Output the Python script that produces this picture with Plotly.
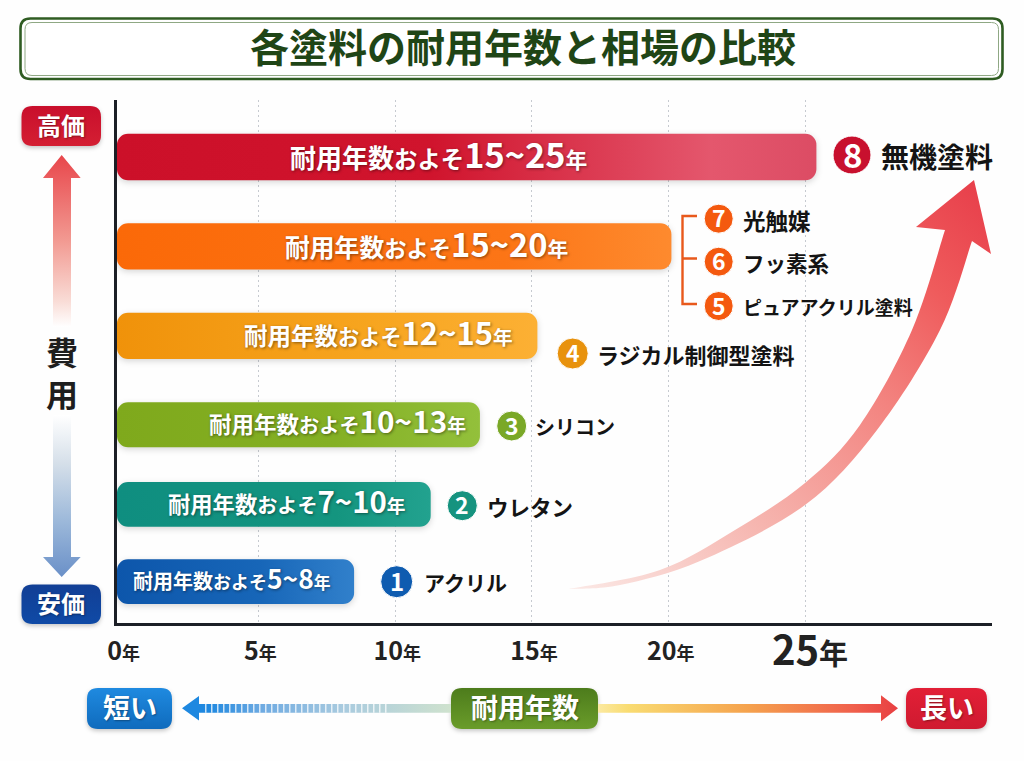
import json
import plotly.graph_objects as go

# rows run bottom to top, like the bars in the picture
low_years = [5, 7, 10, 12, 15, 15]
high_years = [8, 10, 13, 15, 20, 25]
bar_end_years = [8.5, 11.3, 13.1, 15.2, 20.1, 25.4]
cost_level = [0.79, 2.27, 3.79, 5.49, 7.2, 8.91]

paint_numbers = [1, 2, 3, 4, 5, 6, 7, 8]
paint_names = [
    "アクリル", "ウレタン", "シリコン", "ラジカル制御型塗料",
    "ピュアアクリル塗料", "フッ素系", "光触媒", "無機塗料",
]

tick_years = [0, 5, 10, 15, 20, 25]
tick_units = ["年", "年", "年", "年", "年", "年"]
grid_years = [5, 10, 15, 20, 25]

title_text = "各塗料の耐用年数と相場の比較"

# page geometry
W, H = 1024, 761
L, R, T, B = 117, 992, 100, 623
X_MIN, X_MAX = -0.168, 31.82

FONT = "Noto Sans CJK JP"
INK = "#141414"

# styles per bar
bar_colors = ["#1c6dbd", "#17988a", "#86b42a", "#f6a21c", "#fd7a1a", "#d6304a"]
bar_heights = [0.855, 0.855, 0.86, 0.88, 0.885, 0.885]
bar_grads = [
    [(0, "#0d56ab"), (0.6, "#1766b8"), (1, "#3180cb")],
    [(0, "#0f8e80"), (0.7, "#14957f"), (1, "#22a28f")],
    [(0, "#7fa91c"), (0.6, "#84b024"), (1, "#93c03b")],
    [(0, "#f0920a"), (0.6, "#f7a51f"), (1, "#fcb034")],
    [(0, "#fb6908"), (0.7, "#fc7516"), (1, "#fe8a2e")],
    [(0, "#cc1029"), (0.45, "#d0142d"), (0.85, "#e4576d"), (1, "#dc4c64")],
]
label_centers = [232, 287, 337, 378, 426, 438]
label_sizes = [20, 22.3, 22.5, 23.5, 24.8, 26]

# number badge: cx, cy, radius, color, digit size
badge_styles = [
    (396.7, 581.7, 16, "#0f5cb0", 24),
    (462.3, 505.7, 15, "#16937f", 23),
    (511.7, 426, 15, "#7aa827", 23),
    (572.7, 353.5, 15.5, "#e8920d", 23),
    (718.7, 306, 14.5, "#f4590f", 23),
    (718.7, 261.7, 14.5, "#f4590f", 23),
    (718.7, 218.7, 14.5, "#f4590f", 23),
    (852, 155, 19, "#c8102e", 33),
]
# paint name: left edge, centre y, size
name_styles = [
    (422, 582, 21),
    (485, 506, 21.5),
    (533, 426, 20),
    (595, 354, 22),
    (741, 306, 19),
    (741, 262, 21.5),
    (741, 220, 22.5),
    (879, 156, 28),
]


def px(x):
    return (x - L) / (R - L)


def py(y):
    return (B - y) / (B - T)


def pt(x, y):
    return f"{px(x):.5f},{py(y):.5f}"


shapes = []
shape_paints = []


def add_shape(shape, grad=None, shadow=None):
    shape.setdefault("xref", "paper")
    shape.setdefault("yref", "paper")
    shape.setdefault("layer", "above")
    shape.setdefault("line", dict(width=0))
    if grad or shadow:
        shape_paints.append(dict(index=len(shapes), grad=grad, shadow=shadow))
    shapes.append(shape)


def round_rect(x0, y0, x1, y1, r):
    return (
        f"M{pt(x0 + r, y0)} L{pt(x1 - r, y0)} Q{pt(x1, y0)} {pt(x1, y0 + r)} "
        f"L{pt(x1, y1 - r)} Q{pt(x1, y1)} {pt(x1 - r, y1)} "
        f"L{pt(x0 + r, y1)} Q{pt(x0, y1)} {pt(x0, y1 - r)} "
        f"L{pt(x0, y0 + r)} Q{pt(x0, y0)} {pt(x0 + r, y0)} Z"
    )


def polygon(points):
    return "M" + " L".join(pt(x, y) for x, y in points) + " Z"


def smooth(points):
    # catmull-rom through the points, as C segments
    out = []
    for i in range(len(points) - 1):
        p0 = points[max(i - 1, 0)]
        p1 = points[i]
        p2 = points[i + 1]
        p3 = points[min(i + 2, len(points) - 1)]
        c1 = (p1[0] + (p2[0] - p0[0]) / 6, p1[1] + (p2[1] - p0[1]) / 6)
        c2 = (p2[0] - (p3[0] - p1[0]) / 6, p2[1] - (p3[1] - p1[1]) / 6)
        out.append(f"C{pt(*c1)} {pt(*c2)} {pt(*p2)}")
    return " ".join(out)


annotations = []


def note(x, y, text, size, color=INK, anchor="center", shadow=None):
    font = dict(family=FONT, size=size, color=color, weight=700)
    if shadow:
        font["shadow"] = shadow
    annotations.append(
        dict(
            x=px(x), y=py(y), xref="paper", yref="paper", text=text,
            showarrow=False, xanchor=anchor, yanchor="middle", font=font,
        )
    )


def pill(x0, y0, x1, y1, grad, text, size):
    add_shape(
        dict(type="path", path=round_rect(x0, y0, x1, y1, 11), fillcolor=grad[0][1]),
        grad=dict(stops=grad, x1=0, y1=0, x2=0, y2=1),
        shadow="drop-shadow(0 2px 2px rgba(0,0,0,.22))",
    )
    note((x0 + x1) / 2, (y0 + y1) / 2 - 2, text, size, "#ffffff",
         shadow="1px 1px 2px rgba(0,0,0,0.35)")


# title frame
add_shape(dict(type="path", path=round_rect(20.5, 18.5, 1002.5, 79, 10), fillcolor="#ffffff",
               line=dict(color="#2f5c22", width=2.6)))
add_shape(dict(type="path", path=round_rect(25, 22.5, 998.5, 75.5, 7),
               line=dict(color="#8fa884", width=1)))

# cost side
pill(21.5, 106, 101, 146, [(0, "#c90f2c"), (1, "#d41f33")], "高価", 24)
pill(21.5, 584.5, 101, 624, [(0, "#123f95"), (1, "#0f4aa6")], "安価", 24)
add_shape(
    dict(type="path", fillcolor="#e9504f", path=polygon(
        [(61.7, 155), (80.7, 178), (71, 178), (71, 327), (53, 327), (53, 178), (43, 178)])),
    grad=dict(stops=[(0, "#e8464b"), (0.5, "#f29a92"), (0.85, "#f9dcd6"), (1, "#ffffff")],
              x1=0, y1=0, x2=0, y2=1),
)
add_shape(
    dict(type="path", fillcolor="#6f94c8", path=polygon(
        [(53, 415), (71, 415), (71, 557), (80.7, 557), (61.7, 577), (43, 557), (53, 557)])),
    grad=dict(stops=[(0, "#ffffff"), (0.3, "#d5dfe9"), (0.65, "#9db9da"), (1, "#6a90c8")],
              x1=0, y1=0, x2=0, y2=1),
)
note(62, 372, "費<br>用", 32, "#1e1e1e")

# bracket round the three paints sharing a bar
bracket = f"M{pt(697, 216)} L{pt(682.5, 216)} L{pt(682.5, 304)} L{pt(697, 304)} M{pt(682.5, 258.5)} L{pt(697, 258.5)}"
add_shape(dict(type="path", path=bracket, line=dict(color="#e8591c", width=2.4)))

# big rising arrow
upper = [(569, 589), (660, 570), (735, 530), (805, 483), (860, 425), (912, 330), (945, 230)]
lower = [(972, 241), (940, 330), (877, 430), (805, 505), (700, 561), (620, 585), (569, 589)]
arrow_path = (
    f"M{pt(*upper[0])} {smooth(upper)} L{pt(916, 227)} L{pt(974, 180)} L{pt(991, 254)} "
    f"L{pt(*lower[0])} {smooth(lower)} Z"
)
add_shape(
    dict(type="path", path=arrow_path, fillcolor="#e83a47"),
    grad=dict(stops=[(0, "#fbe9e6"), (0.3, "#f6b6b0"), (0.6, "#f38480"), (0.8, "#ef5b5c"), (1, "#e73c49")],
              x1=0, y1=1, x2=1, y2=0),
)

# bottom duration scale
pill(87, 688, 172, 729, [(0, "#1f8ae0"), (1, "#0f6bbd")], "短い", 27)
pill(451, 688, 598, 729, [(0, "#4d7c1c"), (1, "#6a9c2a")], "耐用年数", 27)
pill(906, 688, 987, 729, [(0, "#e21f36"), (1, "#cf1a30")], "長い", 27)
add_shape(
    dict(type="path", fillcolor="#1e88e0", path=polygon(
        [(182, 708.3), (199, 696), (199, 704), (451, 704), (451, 712.7), (199, 712.7), (199, 720.5)])),
    grad=dict(stops=[(0, "#1e88e0"), (0.1, "#1e88e0"), (0.3, "#6fabe2"), (0.6, "#a9cbdf"), (1, "#cfe2ce")],
              x1=0, y1=0, x2=1, y2=0),
)
add_shape(dict(type="line", x0=px(205), x1=px(390), y0=py(708.3), y1=py(708.3),
               line=dict(color="rgba(255,255,255,0.75)", width=9, dash="1.5px,4.5px")))
add_shape(
    dict(type="path", fillcolor="#f5a04a", path=polygon(
        [(598, 704), (881, 704), (881, 695.3), (898, 708.3), (881, 721.3), (881, 712.7), (598, 712.7)])),
    grad=dict(stops=[(0, "#fbe9a0"), (0.1, "#f9dc72"), (0.5, "#f5a24d"), (0.85, "#f0604c"), (1, "#e83f42")],
              x1=0, y1=0, x2=1, y2=0),
)

# bar labels, built from the year ranges
for i in range(len(low_years)):
    k = label_sizes[i]
    text = (
        f"耐用年数<span style='font-size:{k * 0.9:.1f}px'>およそ</span>"
        f"<span style='font-size:{k * 1.32:.1f}px'>{low_years[i]}~{high_years[i]}</span>"
        f"<span style='font-size:{k * 0.84:.1f}px'>年</span>"
    )
    y_mid = B - cost_level[i] * (B - T) / 10
    note(label_centers[i], y_mid - 4, text, k, "#ffffff", shadow="1px 1px 3px rgba(0,0,0,0.45)")

# badges and paint names
for i, (num, name) in enumerate(zip(paint_numbers, paint_names)):
    cx, cy, r, color, digit = badge_styles[i]
    add_shape(dict(type="circle", x0=px(cx - r), x1=px(cx + r), y0=py(cy + r), y1=py(cy - r),
                   fillcolor=color, line=dict(color="#ffffff", width=1)))
    note(cx, cy - 1.5, str(num), digit, "#ffffff")
    nx, ny, size = name_styles[i]
    note(nx, ny, name, size, INK, anchor="left")

# x tick labels, digits larger than the unit, 25 much larger
tick_text = []
for year, unit in zip(tick_years, tick_units):
    if year == 25:
        tick_text.append(
            f"<span style='font-size:40px;baseline-shift:-5px'>&nbsp;{year}"
            f"<span style='font-size:29px'>{unit}</span></span>"
        )
    else:
        tick_text.append(f"&nbsp;<span style='font-size:25px'>{year}</span>{unit}")

fig = go.Figure()
fig.add_trace(
    go.Bar(
        y=cost_level,
        x=[v - X_MIN for v in bar_end_years],
        base=X_MIN,
        orientation="h",
        width=bar_heights,
        marker=dict(color=bar_colors, line=dict(width=0), cornerradius=11),
        hoverinfo="skip",
    )
)

fig.update_layout(
    width=W,
    height=H,
    margin=dict(l=L, r=W - R, t=T, b=H - B, pad=0),
    paper_bgcolor="#fefefe",
    plot_bgcolor="rgba(0,0,0,0)",
    showlegend=False,
    title=dict(
        text=title_text,
        x=523 / W,
        y=1 - 48 / H,
        xanchor="center",
        yanchor="middle",
        font=dict(family=FONT, size=39, color="#1f4516", weight=700),
    ),
    shapes=shapes,
    annotations=annotations,
)
fig.update_xaxes(
    range=[X_MIN, X_MAX],
    tickmode="array",
    tickvals=tick_years,
    ticktext=tick_text,
    tickfont=dict(family=FONT, size=18, color="#222222", weight=700),
    ticks="",
    ticklabelstandoff=12,
    showgrid=False,
    zeroline=False,
    showline=True,
    linewidth=3,
    linecolor="#1c1f26",
    minor=dict(
        tickmode="array",
        tickvals=grid_years,
        ticks="",
        showgrid=True,
        gridcolor="#c6cad0",
        gridwidth=1,
        griddash="2px,3px",
    ),
)
fig.update_yaxes(
    range=[0, 10],
    showticklabels=False,
    ticks="",
    showgrid=False,
    zeroline=False,
    showline=True,
    linewidth=3,
    linecolor="#1c1f26",
)

# plotly has no gradient fill for bars or shapes, so add them once the plot exists
bar_paints = [
    dict(grad=dict(stops=g, x1=0, y1=0, x2=1, y2=0), shadow="drop-shadow(0 2px 3px rgba(0,0,0,.16))")
    for g in bar_grads
]
post_script = """
document.body.style.margin = '0';
var gd = document.getElementById('{plot_id}');
var NS = 'http://www.w3.org/2000/svg';
var svg = gd.querySelector('svg.main-svg');
var defs = svg.querySelector('defs');
function paint(el, p, id) {
  if (!el) return;
  if (p.grad) {
    var g = document.createElementNS(NS, 'linearGradient');
    g.setAttribute('id', id);
    ['x1', 'y1', 'x2', 'y2'].forEach(function (k) { g.setAttribute(k, p.grad[k]); });
    p.grad.stops.forEach(function (s) {
      var st = document.createElementNS(NS, 'stop');
      st.setAttribute('offset', s[0]);
      st.setAttribute('stop-color', s[1]);
      g.appendChild(st);
    });
    defs.appendChild(g);
    el.style.fill = 'url(#' + id + ')';
  }
  if (p.shadow) el.style.filter = p.shadow;
}
var bars = gd.querySelectorAll('.barlayer .point path');
BAR_PAINTS.forEach(function (p, i) { paint(bars[i], p, 'bar-grad-' + i); });
SHAPE_PAINTS.forEach(function (p) {
  paint(gd.querySelector('.shapelayer path[data-index="' + p.index + '"]'), p, 'shape-grad-' + p.index);
});
""".replace("BAR_PAINTS", json.dumps(bar_paints)).replace("SHAPE_PAINTS", json.dumps(shape_paints))

fig.write_html("out.html", post_script=post_script, config={"displayModeBar": False})
